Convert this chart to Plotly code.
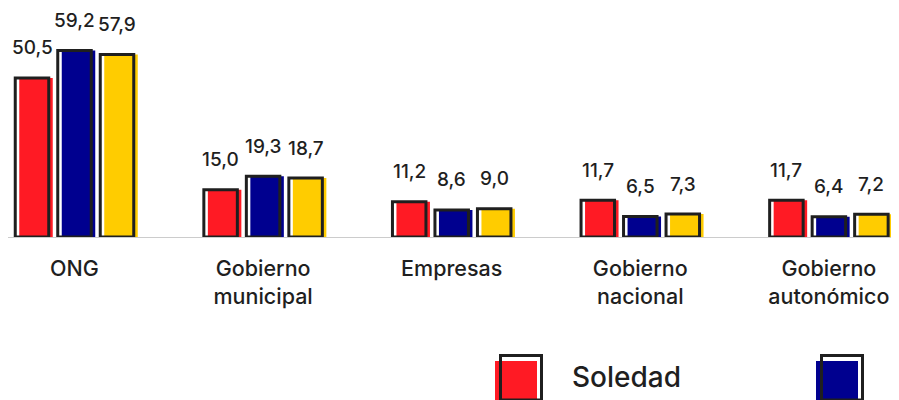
import plotly.graph_objects as go

CATEGORIES = ["ONG", "Gobierno<br>municipal", "Empresas", "Gobierno<br>nacional", "Gobierno<br>autonómico"]
SERIES = ["Soledad", "No soledad", "Total"]
SOLEDAD = [50.5, 15.0, 11.2, 11.7, 11.7]
NO_SOLEDAD = [59.2, 19.3, 8.6, 6.5, 6.4]
TOTAL = [57.9, 18.7, 9.0, 7.3, 7.2]
VALUES = [SOLEDAD, NO_SOLEDAD, TOTAL]

COLORS = ["#FF1A24", "#00008F", "#FFCC00"]
INK = "#1f1f1f"
FONT = "Inter"

W, H = 899, 400
PAGE_PAD = 8                    # browser body margin around the plot div
M_TOP, M_BOT = 2, 171           # plot area spans y=2..229 px of the figure
X_PX0, X_PXU = 66.5, 188.6      # pixel of category 0, pixels per category
Y_PXU = 3.15                    # pixels per percentage point

BAR_W = 33.5 / X_PXU
PITCH = 42.5 / X_PXU
SHIFT = 4 / X_PXU

x_idx = list(range(len(CATEGORIES)))
fig = go.Figure()

for i, (name, vals) in enumerate(zip(SERIES, VALUES)):
    center = (i - 1) * PITCH
    # colored fill, nudged right of the outline
    fig.add_trace(go.Bar(
        x=x_idx, y=vals, name=name,
        width=BAR_W, offset=center - BAR_W / 2 + SHIFT,
        marker=dict(color=COLORS[i], line=dict(width=0)),
        showlegend=False, hoverinfo="skip"
    ))
    # black outline on top
    fig.add_trace(go.Bar(
        x=x_idx, y=vals, name=name,
        width=BAR_W, offset=center - BAR_W / 2,
        marker=dict(color="rgba(0,0,0,0)", line=dict(color=INK, width=3)),
        showlegend=False,
        hovertemplate="%{y:.1f}<extra>" + name + "</extra>"
    ))
    for xi, v in zip(x_idx, vals):
        fig.add_annotation(
            x=xi + center, y=v, text=f"{v:.1f}".replace(".", ","),
            showarrow=False, yanchor="middle", yshift=30,
            font=dict(family=FONT, size=19, color=INK, weight=500)
        )

# custom legend: outlined square with offset colour fill
plot_h = H - M_TOP - M_BOT


def px_x(p):
    return (p - PAGE_PAD) / W


def px_y(p):
    return (H - M_BOT - (p - PAGE_PAD)) / plot_h


for i, name in enumerate(SERIES):
    left = 499 + 321 * i
    fig.add_shape(type="rect", xref="paper", yref="paper",
                  x0=px_x(left - 4), x1=px_x(left + 38),
                  y0=px_y(410), y1=px_y(361),
                  fillcolor=COLORS[i], line=dict(width=0), layer="above")
    fig.add_shape(type="rect", xref="paper", yref="paper",
                  x0=px_x(left + 1.5), x1=px_x(left + 42.5),
                  y0=px_y(400), y1=px_y(355.5),
                  fillcolor="rgba(0,0,0,0)", line=dict(color=INK, width=3), layer="above")
    fig.add_annotation(xref="paper", yref="paper", x=px_x(left + 71), y=px_y(377),
                       text=name, showarrow=False, xanchor="left", yanchor="middle",
                       font=dict(family=FONT, size=28, color=INK, weight=500))

fig.update_layout(
    width=W, height=H,
    barmode="overlay",
    paper_bgcolor="white",
    plot_bgcolor="white",
    margin=dict(l=0, r=0, t=M_TOP, b=M_BOT, autoexpand=False),
    showlegend=False,
    font=dict(family=FONT, color=INK)
)
fig.update_xaxes(
    range=[-X_PX0 / X_PXU, (W - X_PX0) / X_PXU],
    tickvals=x_idx, ticktext=CATEGORIES,
    tickfont=dict(family=FONT, size=21.5, color=INK, weight=500),
    ticks="", ticklabelstandoff=12, automargin=False,
    showgrid=False, zeroline=False,
    showline=True, linecolor="#cccccc", linewidth=1
)
fig.update_yaxes(range=[0, plot_h / Y_PXU], visible=False, showgrid=False, automargin=False)

fig.write_html("out.html")
